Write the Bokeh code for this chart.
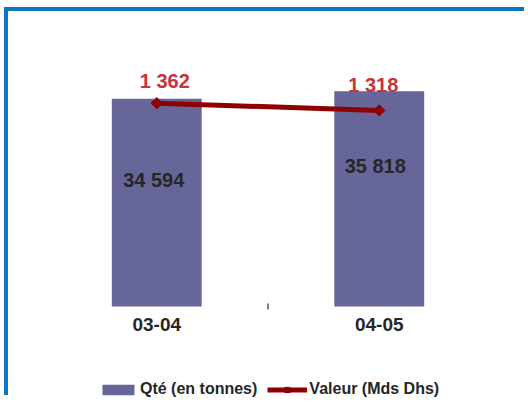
import math
from bokeh.plotting import figure
from bokeh.models import ColumnDataSource, Range1d, Legend, LegendItem
from bokeh.embed import file_html
from bokeh.resources import INLINE
from bokeh.core.properties import value

# ---- data ----
categories = ["03-04", "04-05"]
qte = [34594, 35818]                 # Qté (en tonnes)
valeur = [1362, 1318]                # Valeur (Mds Dhs)
qte_labels = ["34 594", "35 818"]
valeur_labels = ["1 362", "1 318"]
series_names = ["Qté (en tonnes)", "Valeur (Mds Dhs)"]

# ---- styles ----
FONT = "Liberation Sans"
BAR = "#666699"
LINE = "#900000"
RED_TXT = "#c8323c"
DARK = "#262626"
BLUE = "#0a78bd"

xs = [i + 0.5 for i in range(len(categories))]
boundaries = [float(i) for i in range(1, len(categories))]

src = ColumnDataSource(dict(
    x=xs, cat=categories, qte=qte, valeur=valeur,
    qlab=qte_labels, vlab=valeur_labels,
    qdx=[-3, -4], qdy=[81, 75],
    vdx=[8, -6], vdy=[-22, -25],
))

p = figure(width=520, height=388, output_backend="svg", toolbar_location=None,
           x_range=Range1d(0, len(categories)),
           y_range=Range1d(-15480, 47603),
           x_axis_location=None, y_axis_location=None,
           min_border_left=37, min_border_right=38,
           min_border_top=9, min_border_bottom=0)
p.extra_y_ranges = {"val": Range1d(-424, 1860)}
p.grid.visible = False
p.outline_line_color = None
p.background_fill_color = "white"
p.border_fill_color = "white"
p.styles = {"border-left": "4px solid " + BLUE, "border-top": "4px solid " + BLUE,
            "margin-left": "4px", "margin-top": "7px"}

bars = p.vbar(x="x", top="qte", bottom=0, width=0.404, source=src,
              fill_color=BAR, line_color=None)

line = p.line(x="x", y="valeur", source=src, y_range_name="val",
              line_color=LINE, line_width=5)
pts = p.scatter(x="x", y="valeur", source=src, y_range_name="val",
                marker="square", angle=math.pi / 4, size=8,
                fill_color=LINE, line_color=LINE)

# value labels
p.text(x="x", y="qte", text="qlab", source=src, x_offset="qdx", y_offset="qdy",
       text_align="center", text_baseline="middle",
       text_font=value(FONT), text_font_style="bold", text_font_size="20px",
       text_color=DARK)
p.text(x="x", y="valeur", text="vlab", source=src, y_range_name="val",
       x_offset="vdx", y_offset="vdy",
       text_align="center", text_baseline="middle",
       text_font=value(FONT), text_font_style="bold", text_font_size="20px",
       text_color=RED_TXT)

# category labels and the tick between categories
p.text(x="x", y=0, text="cat", source=src, y_offset=18.5,
       text_align="center", text_baseline="middle",
       text_font=value(FONT), text_font_style="bold", text_font_size="19px",
       text_color=DARK)
p.scatter(x=boundaries, y=[0] * len(boundaries), marker="dash", angle=math.pi / 2,
          size=6, line_color="black", line_width=1)

legend = Legend(items=[LegendItem(label=series_names[0], renderers=[bars]),
                       LegendItem(label=series_names[1], renderers=[line, pts])],
                location=(53, 1), orientation="horizontal",
                glyph_width=40, glyph_height=13, label_standoff=2, spacing=10,
                padding=0, margin=0, border_line_color=None,
                background_fill_alpha=0,
                label_text_font=FONT, label_text_font_style="bold",
                label_text_font_size="16px", label_text_color=DARK)
p.add_layout(legend)

open("out.html", "w").write(file_html(p, INLINE))
